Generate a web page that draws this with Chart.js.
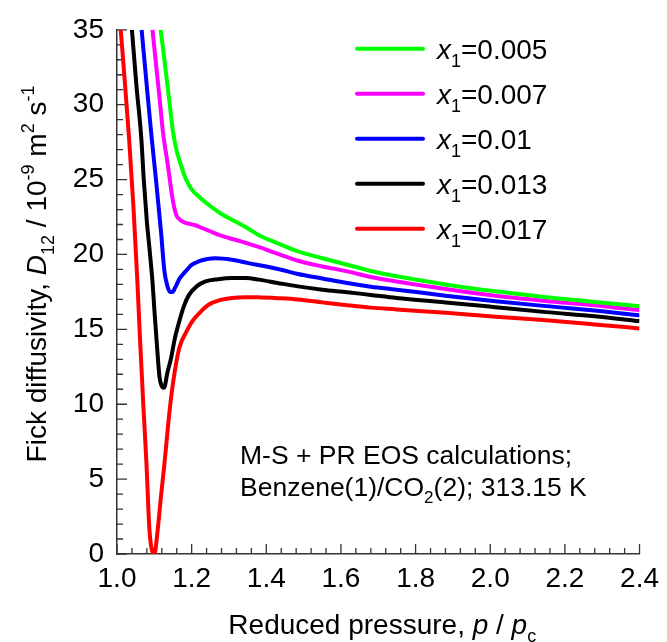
<!DOCTYPE html>
<html>
<head>
<meta charset="utf-8">
<script src="https://cdn.jsdelivr.net/npm/chart.js@4.4.1/dist/chart.umd.min.js"></script>
<style>
  html, body { margin: 0; padding: 0; background: #fff; }
  #wrap { width: 667px; height: 642px; }
</style>
</head>
<body>
<div id="wrap"><canvas id="fickChart"></canvas></div>
<script>
const FONT = '"Liberation Sans", Arial, sans-serif';

// mole fractions of benzene and line colours
const seriesLabels = ["0.005", "0.007", "0.01", "0.013", "0.017"];
const seriesColors = ["#00ff00", "#ff00ff", "#0000ff", "#000000", "#ff0000"];

// reduced pressure p/pc and Fick diffusivity D12 (1e-9 m2/s)
const p005 = [1.117, 1.128, 1.140, 1.150, 1.160, 1.171, 1.185, 1.200, 1.222, 1.246, 1.280, 1.317, 1.350, 1.379, 1.430, 1.485, 1.550, 1.617, 1.680, 1.749, 1.880, 2.014, 2.150, 2.279, 2.400];
const d005 = [35.0, 32.8, 30.3, 28.2, 26.9, 26.0, 25.0, 24.35, 23.8, 23.3, 22.7, 22.2, 21.75, 21.3, 20.75, 20.2, 19.75, 19.31, 18.9, 18.54, 18.0, 17.54, 17.15, 16.83, 16.54];

const p007 = [1.095, 1.105, 1.115, 1.123, 1.136, 1.149, 1.158, 1.167, 1.180, 1.193, 1.210, 1.229, 1.250, 1.273, 1.300, 1.334, 1.379, 1.430, 1.485, 1.550, 1.617, 1.680, 1.749, 1.880, 2.014, 2.150, 2.279, 2.400];
const d007 = [35.0, 32.6, 30.2, 28.2, 26.0, 23.7, 22.7, 22.35, 22.15, 22.05, 21.95, 21.75, 21.55, 21.3, 21.1, 20.86, 20.5, 20.05, 19.58, 19.2, 18.87, 18.5, 18.2, 17.7, 17.25, 16.9, 16.61, 16.28];

const p010 = [1.066, 1.080, 1.092, 1.105, 1.118, 1.127, 1.135, 1.142, 1.149, 1.156, 1.168, 1.185, 1.200, 1.220, 1.242, 1.264, 1.308, 1.352, 1.400, 1.440, 1.485, 1.550, 1.617, 1.680, 1.749, 1.880, 2.014, 2.150, 2.279, 2.400];
const d010 = [35.0, 31.2, 28.0, 24.85, 21.5, 18.9, 17.9, 17.5, 17.5, 17.8, 18.4, 18.9, 19.3, 19.55, 19.7, 19.75, 19.65, 19.42, 19.2, 18.98, 18.7, 18.4, 18.09, 17.85, 17.65, 17.25, 16.88, 16.55, 16.26, 15.93];

const p013 = [1.040, 1.052, 1.065, 1.072, 1.080, 1.087, 1.095, 1.101, 1.108, 1.114, 1.120, 1.126, 1.135, 1.145, 1.155, 1.167, 1.180, 1.193, 1.215, 1.237, 1.270, 1.308, 1.345, 1.379, 1.430, 1.485, 1.550, 1.617, 1.680, 1.749, 1.880, 2.014, 2.150, 2.279, 2.400];
const d013 = [35.0, 31.3, 27.8, 24.9, 22.2, 20.4, 18.2, 16.0, 13.6, 11.8, 11.2, 11.1, 12.1, 13.1, 14.4, 15.55, 16.6, 17.3, 17.9, 18.2, 18.35, 18.43, 18.42, 18.32, 18.1, 17.87, 17.65, 17.48, 17.3, 17.1, 16.8, 16.48, 16.15, 15.88, 15.55];

const p017 = [1.010, 1.021, 1.033, 1.044, 1.054, 1.062, 1.070, 1.079, 1.087, 1.100, 1.109, 1.118, 1.127, 1.140, 1.150, 1.167, 1.185, 1.202, 1.225, 1.246, 1.275, 1.308, 1.345, 1.379, 1.430, 1.485, 1.550, 1.617, 1.680, 1.749, 1.880, 2.014, 2.150, 2.279, 2.400];
const d017 = [35.0, 31.5, 27.5, 23.2, 18.5, 14.2, 10.2, 6.0, 1.6, 0.0, 1.6, 3.9, 6.0, 9.35, 11.4, 13.77, 14.8, 15.55, 16.2, 16.66, 16.95, 17.1, 17.15, 17.14, 17.08, 16.99, 16.8, 16.61, 16.45, 16.33, 16.1, 15.84, 15.6, 15.33, 15.06];

const pressures = [p005, p007, p010, p013, p017];
const diffusivities = [d005, d007, d010, d013, d017];

// axis ranges and tick steps
const xMin = 1.0, xMax = 2.4, xMajor = 0.2, xMinorPerMajor = 5;
const yMin = 0, yMax = 35, yMajor = 5, yMinorPerMajor = 5;

const noteLines = [
  [{ t: "M-S + PR EOS calculations;" }],
  [{ t: "Benzene(1)/CO" }, { t: "2", pos: "sub" }, { t: "(2); 313.15 K" }]
];
const yTitle = [
  { t: "Fick diffusivity, " }, { t: "D", it: true }, { t: "12", pos: "sub" },
  { t: " / 10" }, { t: "-9", pos: "sup" }, { t: " m" }, { t: "2", pos: "sup" },
  { t: " s" }, { t: "-1", pos: "sup" }
];
const xTitle = [
  { t: "Reduced pressure, " }, { t: "p", it: true }, { t: " / " },
  { t: "p", it: true }, { t: "c", pos: "sub" }
];

function segFont(seg, size) {
  const s = seg.pos ? Math.round(size * 0.65) : size;
  return (seg.it ? "italic " : "") + s + "px " + FONT;
}

function richWidth(ctx, segs, size) {
  let w = 0;
  segs.forEach(seg => { ctx.font = segFont(seg, size); w += ctx.measureText(seg.t).width; });
  return w;
}

function drawRich(ctx, segs, x, y, size, align) {
  let cx = align === "center" ? x - richWidth(ctx, segs, size) / 2 : x;
  ctx.textAlign = "left";
  ctx.textBaseline = "alphabetic";
  segs.forEach(seg => {
    ctx.font = segFont(seg, size);
    let dy = 0;
    if (seg.pos === "sub") dy = size * 0.28;
    if (seg.pos === "sup") dy = -size * 0.42;
    ctx.fillText(seg.t, cx, y + dy);
    cx += ctx.measureText(seg.t).width;
  });
}

const decorations = {
  id: "decorations",
  beforeDatasetsDraw(chart) {
    const { ctx, chartArea, scales: { x, y } } = chart;
    ctx.save();
    ctx.strokeStyle = "#333";
    ctx.lineWidth = 1.3;
    ctx.beginPath();
    const nx = Math.round((xMax - xMin) / xMajor * xMinorPerMajor);
    for (let i = 0; i <= nx; i++) {
      const px = x.getPixelForValue(xMin + i * xMajor / xMinorPerMajor);
      const len = i % xMinorPerMajor === 0 ? 10 : 6;
      ctx.moveTo(px, chartArea.bottom);
      ctx.lineTo(px, chartArea.bottom - len);
    }
    const ny = Math.round((yMax - yMin) / yMajor * yMinorPerMajor);
    for (let i = 0; i <= ny; i++) {
      const py = y.getPixelForValue(yMin + i * yMajor / yMinorPerMajor);
      const len = i % yMinorPerMajor === 0 ? 10 : 6;
      ctx.moveTo(chartArea.left, py);
      ctx.lineTo(chartArea.left + len, py);
    }
    ctx.stroke();
    ctx.restore();
  },
  afterDraw(chart) {
    const { ctx, chartArea } = chart;
    ctx.save();
    ctx.fillStyle = "#000";

    // axis titles
    drawRich(ctx, xTitle, (chartArea.left + chartArea.right) / 2 + 4, 634, 28, "center");
    ctx.save();
    ctx.translate(46, 274);
    ctx.rotate(-Math.PI / 2);
    drawRich(ctx, yTitle, 0, 0, 28, "center");
    ctx.restore();

    // legend
    const lx = chartArea.left + 240, ly = chartArea.top + 19;
    seriesLabels.forEach((lab, i) => {
      const yy = ly + i * 45;
      ctx.strokeStyle = seriesColors[i];
      ctx.lineWidth = 4;
      ctx.lineCap = "round";
      ctx.beginPath();
      ctx.moveTo(lx, yy);
      ctx.lineTo(lx + 66, yy);
      ctx.stroke();
      drawRich(ctx, [{ t: "x", it: true }, { t: "1", pos: "sub" }, { t: "=" + lab }], lx + 80, yy + 10, 28, "left");
    });

    // note
    noteLines.forEach((line, i) => drawRich(ctx, line, chartArea.left + 123, 464 + i * 32, 26.5, "left"));
    ctx.restore();
  }
};

const datasets = seriesLabels.map((lab, i) => ({
  label: "x1=" + lab,
  data: pressures[i].map((p, j) => ({ x: p, y: diffusivities[i][j] })),
  borderColor: seriesColors[i],
  borderWidth: 4,
  pointRadius: 0,
  fill: false,
  cubicInterpolationMode: "monotone"
}));

new Chart(document.getElementById("fickChart"), {
  type: "line",
  data: { datasets },
  options: {
    responsive: true,
    maintainAspectRatio: false,
    animation: false,
    layout: { autoPadding: false, padding: { top: 27, right: 21, left: 0, bottom: 0 } },
    plugins: { legend: { display: false }, tooltip: { enabled: false } },
    scales: {
      x: {
        type: "linear",
        min: xMin, max: xMax,
        afterFit: s => { s.height = 88; },
        grid: { drawOnChartArea: false, drawTicks: false },
        border: { display: true, color: "#333", width: 1.5 },
        ticks: {
          stepSize: xMajor, padding: 8, color: "#000",
          font: { family: FONT, size: 28 },
          callback: v => Number(v).toFixed(1)
        }
      },
      y: {
        min: yMin, max: yMax,
        afterFit: s => { s.width = 117; },
        grid: { drawOnChartArea: false, drawTicks: false },
        border: { display: true, color: "#333", width: 1.5 },
        ticks: {
          stepSize: yMajor, padding: 13, color: "#000",
          font: { family: FONT, size: 28 }
        }
      }
    }
  },
  plugins: [decorations]
});
</script>
</body>
</html>
